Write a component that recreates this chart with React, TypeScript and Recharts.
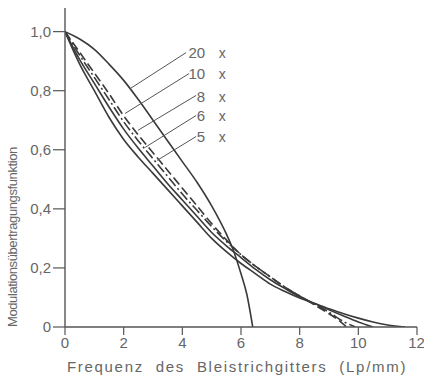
import React from "react";
import { LineChart, Line, XAxis, YAxis, ReferenceLine, ReferenceDot } from "recharts";

// Frequency (Lp/mm) and modulation transfer values for each magnification
const freq20 = [0, 0.5, 1, 1.5, 2, 2.5, 3, 3.5, 4, 4.5, 5, 5.5, 5.7, 6, 6.2, 6.4];
const mtf20 = [1, 0.975, 0.94, 0.89, 0.835, 0.77, 0.7, 0.63, 0.56, 0.49, 0.41, 0.315, 0.27, 0.18, 0.11, 0];

const freq10 = [0, 0.5, 1, 1.5, 2, 2.5, 3, 3.5, 4, 4.5, 5, 5.5, 6, 6.5, 7, 7.5, 8, 8.5, 9, 9.3, 9.6];
const mtf10 = [1, 0.93, 0.86, 0.79, 0.715, 0.65, 0.59, 0.53, 0.47, 0.41, 0.35, 0.295, 0.245, 0.205, 0.17, 0.135, 0.105, 0.075, 0.045, 0.025, 0];

const freq8 = [0, 0.5, 1, 1.5, 2, 2.5, 3, 3.5, 4, 4.5, 5, 5.5, 6, 6.5, 7, 7.5, 8, 8.5, 9, 9.5, 9.9];
const mtf8 = [1, 0.92, 0.845, 0.77, 0.695, 0.63, 0.57, 0.51, 0.45, 0.395, 0.34, 0.29, 0.245, 0.205, 0.17, 0.135, 0.105, 0.078, 0.05, 0.018, 0];

const freq6 = [0, 0.5, 1, 1.5, 2, 2.5, 3, 3.5, 4, 4.5, 5, 5.5, 6, 6.5, 7, 7.5, 8, 8.5, 9, 9.5, 10, 10.5];
const mtf6 = [1, 0.905, 0.825, 0.745, 0.67, 0.605, 0.545, 0.485, 0.43, 0.375, 0.32, 0.275, 0.235, 0.195, 0.16, 0.13, 0.102, 0.08, 0.058, 0.037, 0.017, 0];

const freq5 = [0, 0.5, 1, 1.5, 2, 2.5, 3, 3.5, 4, 4.5, 5, 5.5, 6, 6.5, 7, 7.5, 8, 8.5, 9, 9.5, 10, 10.5, 11, 11.6];
const mtf5 = [1, 0.89, 0.8, 0.71, 0.635, 0.575, 0.52, 0.465, 0.41, 0.355, 0.3, 0.255, 0.215, 0.18, 0.145, 0.12, 0.098, 0.08, 0.062, 0.045, 0.03, 0.017, 0.007, 0];

const xTicks = [0, 2, 4, 6, 8, 10, 12];
const yTicks = [0, 0.2, 0.4, 0.6, 0.8, 1.0];

// Annotation labels (magnification) with leader lines
const labelNames = ["20", "10", "8", "6", "5"];
const labelX = [4.78, 4.78, 4.78, 4.78, 4.78];
const labelY = [0.926, 0.855, 0.78, 0.713, 0.642];
const leaderStartX = [4.13, 4.23, 4.47, 4.47, 4.47];
const leaderStartY = [0.929, 0.858, 0.784, 0.716, 0.645];
const leaderEndX = [2.22, 2.05, 2.49, 2.73, 3.14];
const leaderEndY = [0.807, 0.723, 0.666, 0.608, 0.564];

const xTitle = "Frequenz des Bleistrichgitters (Lp/mm)";
const yTitle = "Modulationsübertragungsfunktion";

const toPoints = (xs: number[], ys: number[]) => xs.map((x, i) => ({ x, y: ys[i] }));

const series = [
  { key: "20x", data: toPoints(freq20, mtf20), dash: undefined as string | undefined },
  { key: "10x", data: toPoints(freq10, mtf10), dash: "9 4" },
  { key: "8x", data: toPoints(freq8, mtf8), dash: "10 3 2 3" },
  { key: "6x", data: toPoints(freq6, mtf6), dash: undefined },
  { key: "5x", data: toPoints(freq5, mtf5), dash: undefined },
];

const FONT = "'Liberation Sans', 'DejaVu Sans', sans-serif";
const AXIS = "#555";
const TEXT = "#666";
const CURVE = "#3a3a3a";

const fmtY = (v: number) => (v === 0 ? "0" : v.toFixed(1).replace(".", ","));

const XTitle = (props: any) => {
  const vb = props.viewBox || {};
  return (
    <text
      x={vb.x + vb.width / 2 - 4}
      y={vb.y + 45}
      textAnchor="middle"
      fill={TEXT}
      fontSize={15}
      fontFamily={FONT}
      letterSpacing={1.7}
      wordSpacing={6}
    >
      {xTitle}
    </text>
  );
};

const YTitle = (props: any) => {
  const vb = props.viewBox || {};
  const x = 17;
  const y = vb.y + vb.height;
  return (
    <text
      x={x}
      y={y}
      transform={`rotate(-90 ${x} ${y})`}
      textAnchor="start"
      fill={TEXT}
      fontSize={13}
      fontFamily={FONT}
      letterSpacing={-0.4}
    >
      {yTitle}
    </text>
  );
};

export default function App() {
  return (
    <div style={{ position: "absolute", left: 0, top: 0, width: 424, height: 377, background: "#fff" }}>
      <LineChart width={424} height={377} margin={{ top: 8, right: 7, bottom: 0, left: 0 }}>
        <XAxis
          type="number"
          dataKey="x"
          domain={[0, 12]}
          ticks={xTicks}
          allowDataOverflow
          height={50}
          stroke={AXIS}
          tickSize={8}
          tickLine={{ stroke: AXIS, strokeWidth: 1.2 }}
          axisLine={{ stroke: AXIS, strokeWidth: 1.4 }}
          tick={{ fill: TEXT, fontSize: 15, fontFamily: FONT }}
          label={<XTitle />}
        />
        <YAxis
          type="number"
          dataKey="y"
          domain={[0, 1.08]}
          ticks={yTicks}
          allowDataOverflow
          width={65}
          stroke={AXIS}
          tickSize={12}
          tickLine={{ stroke: AXIS, strokeWidth: 1.2 }}
          axisLine={{ stroke: AXIS, strokeWidth: 1.4 }}
          tickFormatter={fmtY}
          tick={{ fill: TEXT, fontSize: 15, fontFamily: FONT }}
          label={<YTitle />}
        />
        {series.map((s) => (
          <Line
            key={s.key}
            data={s.data}
            dataKey="y"
            type="monotone"
            stroke={CURVE}
            strokeWidth={1.6}
            strokeDasharray={s.dash}
            dot={false}
            isAnimationActive={false}
          />
        ))}
        {labelNames.map((n, i) => (
          <ReferenceLine
            key={"l" + n}
            segment={[
              { x: leaderStartX[i], y: leaderStartY[i] },
              { x: leaderEndX[i], y: leaderEndY[i] },
            ]}
            stroke="#555"
            strokeWidth={1}
          />
        ))}
        {labelNames.map((n, i) => (
          <ReferenceDot
            key={"t" + n}
            x={labelX[i]}
            y={labelY[i]}
            r={0}
            shape={(p: any) => (
              <g>
                <text x={p.cx} y={p.cy} dy={5} textAnchor="end" fill={TEXT} fontSize={15} fontFamily={FONT}>
                  {n}
                </text>
                <text x={p.cx + 17} y={p.cy} dy={5} textAnchor="middle" fill={TEXT} fontSize={14} fontFamily={FONT}>
                  x
                </text>
              </g>
            )}
          />
        ))}
      </LineChart>
    </div>
  );
}
